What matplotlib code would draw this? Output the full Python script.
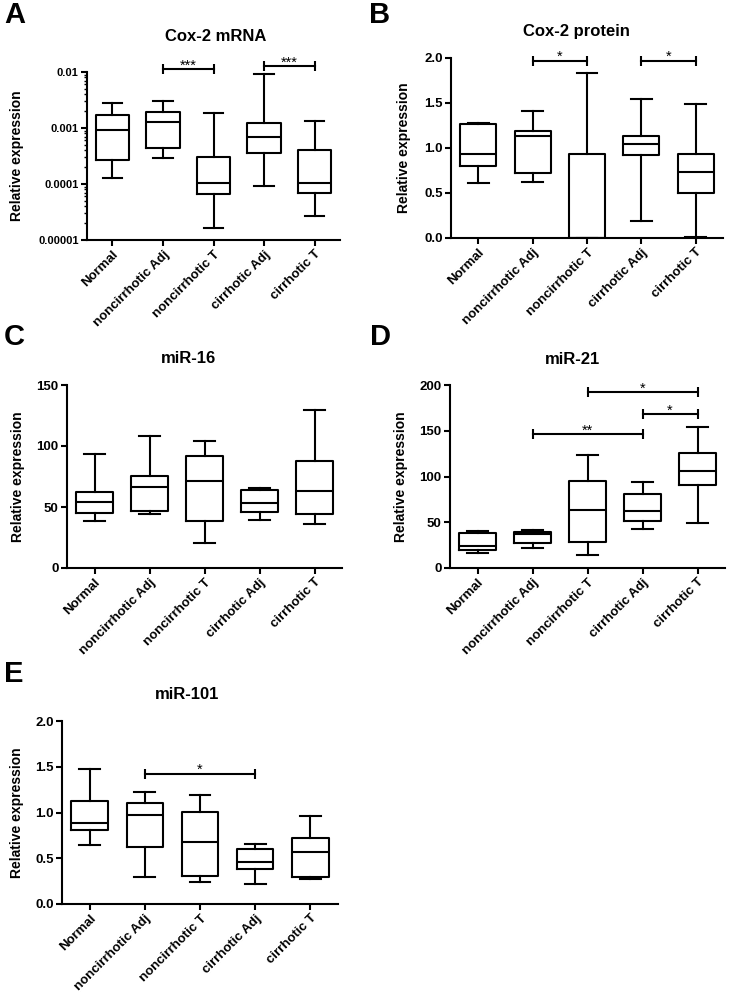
import matplotlib.pyplot as plt
from matplotlib.ticker import LogLocator, NullFormatter

plt.rcParams["font.family"] = ["Liberation Sans", "DejaVu Sans"]
plt.rcParams["font.weight"] = "bold"

W, H = 730, 1001

groups = ["Normal", "noncirrhotic Adj", "noncirrhotic T", "cirrhotic Adj", "cirrhotic T"]

# box stats per group: [whisker low, q1, median, q3, whisker high]
cox2_mrna = [
    [0.00013, 0.00027, 0.00092, 0.0017, 0.0028],
    [0.00029, 0.00044, 0.00128, 0.00193, 0.0030],
    [0.0000164, 0.000066, 0.000104, 0.0003, 0.00188],
    [0.0000935, 0.000358, 0.00068, 0.00123, 0.0093],
    [0.0000265, 0.000068, 0.000104, 0.0004, 0.00131],
]
cox2_protein = [
    [0.615, 0.80, 0.933, 1.267, 1.275],
    [0.626, 0.72, 1.13, 1.19, 1.415],
    [0.0, 0.0, 0.0, 0.935, 1.837],
    [0.185, 0.919, 1.044, 1.133, 1.548],
    [0.015, 0.504, 0.733, 0.933, 1.489],
]
mir16 = [
    [38.7, 45.0, 54.3, 62.4, 93.6],
    [44.4, 46.6, 66.0, 75.5, 108.6],
    [20.4, 38.4, 71.7, 92.2, 103.7],
    [39.5, 45.8, 53.2, 63.8, 65.2],
    [36.2, 44.4, 63.0, 87.6, 129.3],
]
mir21 = [
    [16.0, 20.0, 24.0, 38.6, 40.8],
    [21.9, 27.3, 36.8, 39.4, 41.9],
    [14.2, 28.1, 63.8, 94.8, 123.6],
    [43.0, 51.1, 62.7, 81.3, 94.1],
    [49.6, 90.5, 105.8, 126.2, 154.3],
]
mir101 = [
    [0.649, 0.813, 0.89, 1.126, 1.472],
    [0.295, 0.627, 0.973, 1.108, 1.221],
    [0.24, 0.303, 0.674, 1.002, 1.195],
    [0.215, 0.387, 0.459, 0.605, 0.66],
    [0.273, 0.30, 0.568, 0.718, 0.962],
]

# significance brackets: (from group, to group, height, label)
sig_mrna = [(1, 2, 0.0113, "***"), (3, 4, 0.0128, "***")]
sig_protein = [(1, 2, 1.97, "*"), (3, 4, 1.97, "*")]
sig_mir16 = []
sig_mir21 = [(2, 4, 192, "*"), (3, 4, 168.5, "*"), (1, 3, 146.6, "**")]
sig_mir101 = [(1, 3, 1.425, "*")]

panels = [
    # letter, title, data, sig, rect px (l, t, r, b), yticks, ylabels, ytick size, ylabel x, title pos, letter pos
    ("A", "Cox-2 mRNA", cox2_mrna, sig_mrna, (87, 72, 340, 240),
     [1e-5, 1e-4, 1e-3, 1e-2], ["0.00001", "0.0001", "0.001", "0.01"], 8, -0.25, (0.51, 1.214), (15, 15)),
    ("B", "Cox-2 protein", cox2_protein, sig_protein, (451, 58, 723, 238),
     [0, 0.5, 1.0, 1.5, 2.0], ["0.0", "0.5", "1.0", "1.5", "2.0"], 9.5, -0.147, (0.46, 1.146), (380, 15)),
    ("C", "miR-16", mir16, sig_mir16, (67, 385, 342, 568),
     [0, 50, 100, 150], ["0", "50", "100", "150"], 9.5, -0.153, (0.44, 1.147), (14, 337)),
    ("D", "miR-21", mir21, sig_mir21, (450, 385, 725, 568),
     [0, 50, 100, 150, 200], ["0", "50", "100", "150", "200"], 9.5, -0.153, (0.444, 1.142), (380, 337)),
    ("E", "miR-101", mir101, sig_mir101, (62, 721, 338, 904),
     [0, 0.5, 1.0, 1.5, 2.0], ["0.0", "0.5", "1.0", "1.5", "2.0"], 9.5, -0.137, (0.454, 1.146), (14, 674)),
]

fig = plt.figure(figsize=(W / 100, H / 100), dpi=100)
lw = 1.5
line = dict(color="black", linewidth=lw)

for letter, title, data, sig, (l, t, r, b), yt, ytl, yts, ylx, tpos, lpos in panels:
    ax = fig.add_axes([l / W, 1 - b / H, (r - l) / W, (b - t) / H])
    stats = [dict(whislo=d[0], q1=d[1], med=d[2], q3=d[3], whishi=d[4], fliers=[]) for d in data]
    ax.bxp(stats, positions=range(len(groups)), widths=0.66, capwidths=0.38,
           showfliers=False, boxprops=line, whiskerprops=line, capprops=line,
           medianprops=line)
    if letter == "A":
        ax.set_yscale("log")
        ax.yaxis.set_minor_locator(LogLocator(base=10, subs=range(2, 10)))
        ax.yaxis.set_minor_formatter(NullFormatter())
    ax.set_ylim(yt[0], yt[-1])
    ax.set_yticks(yt, ytl)
    ax.set_xlim(-0.5, 4.5)
    ax.set_xticks(range(len(groups)), groups, rotation=45, ha="right",
                  rotation_mode="anchor", fontsize=9.5, fontweight="bold")
    for lab in ax.get_yticklabels():
        lab.set_fontsize(yts)
        lab.set_fontweight("bold")
    ax.tick_params(axis="both", which="major", direction="out", length=4, width=lw, pad=2)
    ax.tick_params(axis="y", which="minor", direction="out", length=2.5, width=1)
    for s in ["top", "right"]:
        ax.spines[s].set_visible(False)
    for s in ["left", "bottom"]:
        ax.spines[s].set_linewidth(lw)
    ax.set_ylabel("Relative expression", fontsize=10, fontweight="bold")
    ax.yaxis.set_label_coords(ylx, 0.5)
    ax.text(tpos[0], tpos[1], title, transform=ax.transAxes, ha="center",
            va="center", fontsize=12, fontweight="bold")
    for x1, x2, y, s in sig:
        ax.plot([x1, x2], [y, y], color="black", linewidth=lw, marker="|",
                markersize=7, markeredgewidth=lw, clip_on=False)
        ax.annotate(s, xy=((x1 + x2) / 2, y), xytext=(0, -2.5),
                    textcoords="offset points", ha="center", va="bottom",
                    fontsize=10.5, fontweight="normal", annotation_clip=False)
    fig.text(lpos[0] / W, 1 - lpos[1] / H, letter, ha="center", va="center",
             fontsize=21, fontweight="bold")

fig.savefig("out.png", dpi=100)
